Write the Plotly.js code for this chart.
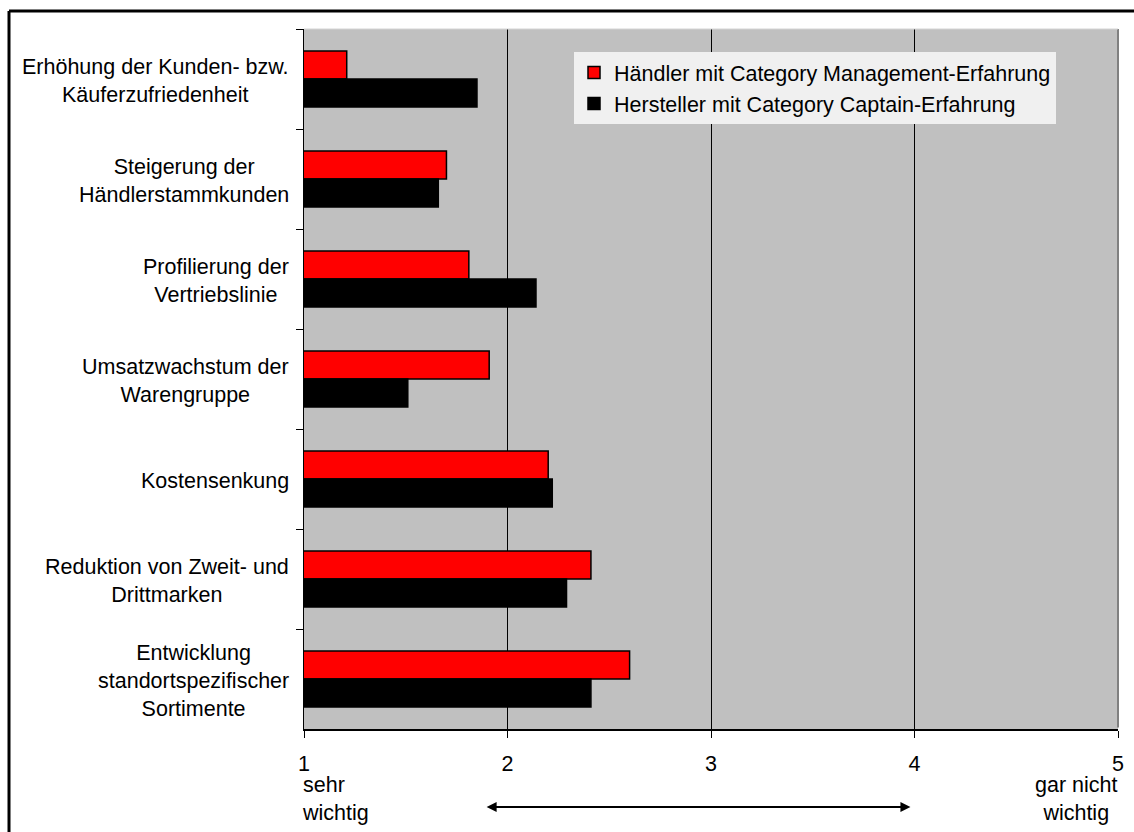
<!DOCTYPE html>
<html>
<head>
<meta charset="utf-8">
<script src="https://cdn.plot.ly/plotly-3.0.1.min.js"></script>
<style>
  html, body { margin: 0; padding: 0; background: #ffffff; }
  #chart { width: 1134px; height: 832px; }
</style>
</head>
<body>
<div id="chart"></div>
<script>
// Categories (top to bottom)
const categories = [
  "Erhöhung der Kunden- bzw.<br>Käuferzufriedenheit",
  "Steigerung der<br>Händlerstammkunden",
  "Profilierung der<br>Vertriebslinie",
  "Umsatzwachstum der<br>Warengruppe",
  "Kostensenkung",
  "Reduktion von Zweit- und<br>Drittmarken",
  "Entwicklung<br>standortspezifischer<br>Sortimente"
];
// Series values (1 = sehr wichtig ... 5 = gar nicht wichtig)
const haendler   = [1.21, 1.70, 1.81, 1.91, 2.20, 2.41, 2.60];
const hersteller = [1.85, 1.66, 2.14, 1.51, 2.22, 2.29, 2.41];
const seriesNames = [
  "Händler mit Category Management-Erfahrung",
  "Hersteller mit Category Captain-Erfahrung"
];
const tickValues = [1, 2, 3, 4, 5];
const tickLabels = ["1", "2", "3", "4", "5"];
const scaleLow  = "sehr<br>wichtig";
const scaleHigh = "gar nicht<br>wichtig";

const FONT = "'Liberation Sans', Arial, Helvetica, sans-serif";
const FS = 21.5;

const traces = [
  {
    type: "bar", orientation: "h", name: seriesNames[0],
    y: categories, x: haendler,
    marker: { color: "#ff0000", line: { color: "#000000", width: 1.5 } },
    hoverinfo: "x+name"
  },
  {
    type: "bar", orientation: "h", name: seriesNames[1],
    y: categories, x: hersteller,
    marker: { color: "#000000", line: { color: "#000000", width: 1.5 } },
    hoverinfo: "x+name"
  }
];

const annotations = categories.map(c => ({
  xref: "paper", yref: "y", x: 0, y: c,
  xanchor: "right", yanchor: "middle", xshift: -13, yshift: -2,
  text: c, align: "center", showarrow: false,
  font: { family: FONT, size: FS, color: "#000000" }
}));

annotations.push({
  xref: "x", yref: "paper", x: tickValues[0], y: 0,
  xanchor: "left", yanchor: "middle", xshift: -4, yshift: -70,
  text: scaleLow, align: "left", showarrow: false,
  font: { family: FONT, size: FS, color: "#000000" }
});
annotations.push({
  xref: "x", yref: "paper", x: tickValues[tickValues.length - 1], y: 0,
  xanchor: "right", yanchor: "middle", xshift: 1, yshift: -70,
  text: scaleHigh, align: "center", showarrow: false,
  font: { family: FONT, size: FS, color: "#000000" }
});
// double-headed arrow under the axis
annotations.push({
  xref: "x", yref: "paper", x: 3.98, y: -78 / 700,
  axref: "x", ayref: "pixel", ax: 1.89, ay: 0,
  text: "", showarrow: true, arrowside: "end+start",
  arrowhead: 2, arrowsize: 1, arrowwidth: 2, arrowcolor: "#000000",
  standoff: 0, startstandoff: 0
});

const layout = {
  width: 1134, height: 832,
  margin: { l: 304, r: 16, t: 29, b: 103, pad: 0 },
  paper_bgcolor: "#ffffff",
  plot_bgcolor: "#c0c0c0",
  font: { family: FONT, size: FS, color: "#000000" },
  barmode: "group",
  bargap: 0.44,
  bargroupgap: 0,
  showlegend: true,
  legend: {
    x: 0.3317, y: 0.967, xanchor: "left", yanchor: "top",
    bgcolor: "#f0f0f0", borderwidth: 0,
    traceorder: "normal",
    font: { family: FONT, size: FS, color: "#000000" }
  },
  xaxis: {
    range: [1, 5],
    tickmode: "array", tickvals: tickValues, ticktext: tickLabels,
    ticks: "outside", ticklen: 7, tickwidth: 1, tickcolor: "#000000",
    ticklabelstandoff: 7,
    showline: true, linecolor: "#000000", linewidth: 2,
    showgrid: true, gridcolor: "#000000", gridwidth: 1,
    zeroline: false, fixedrange: true,
    tickfont: { family: FONT, size: FS, color: "#000000" }
  },
  yaxis: {
    type: "category", autorange: "reversed",
    showline: true, linecolor: "#000000", linewidth: 1,
    ticks: "outside", tickson: "boundaries", ticklen: 7, tickwidth: 1, tickcolor: "#000000",
    showticklabels: false, showgrid: false, zeroline: false, fixedrange: true
  },
  annotations: annotations,
  shapes: [
    { type: "line", xref: "paper", yref: "paper",
      x0: -0.3624, x1: 1.05, y0: 1.0257, y1: 1.0257,
      line: { color: "#000000", width: 3 } },
    { type: "line", xref: "paper", yref: "paper",
      x0: -0.3624, x1: -0.3624, y0: 1.0257, y1: -0.2,
      line: { color: "#000000", width: 3 } },
    { type: "line", xref: "paper", yref: "paper", layer: "above",
      x0: 1, x1: 1, y0: 0.002, y1: 1,
      line: { color: "#808080", width: 2 } },
    { type: "line", xref: "paper", yref: "paper", layer: "above",
      x0: 0, x1: 1, y0: 1, y1: 1,
      line: { color: "#d4d4d4", width: 1 } }
  ]
};

Plotly.newPlot("chart", traces, layout, { displayModeBar: false, staticPlot: true });
</script>
</body>
</html>
